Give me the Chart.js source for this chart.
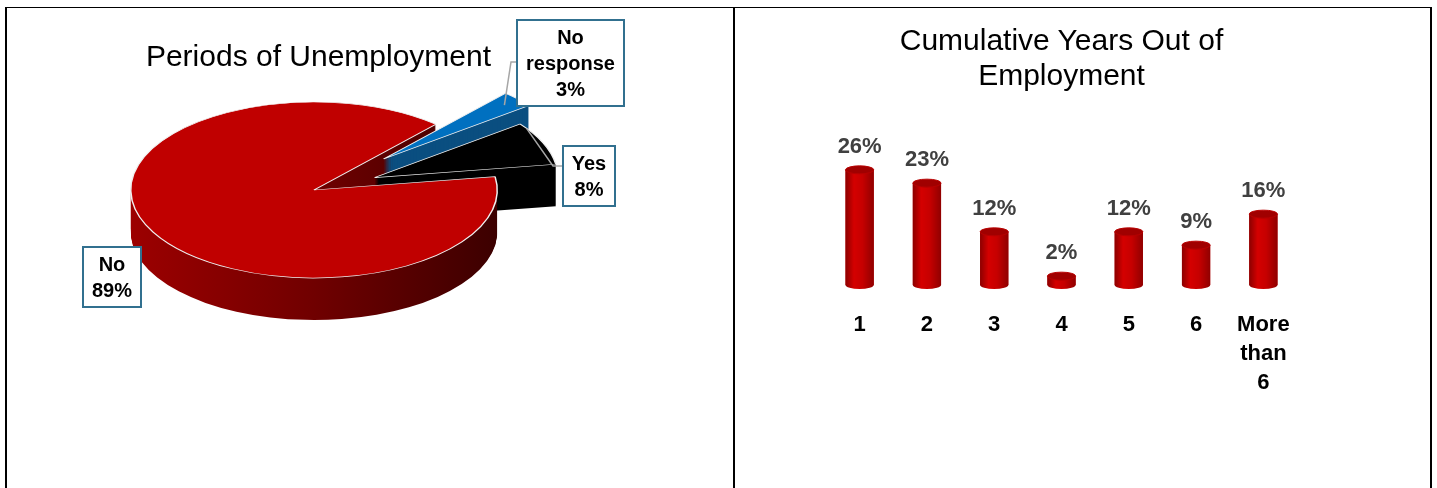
<!DOCTYPE html>
<html>
<head>
<meta charset="utf-8">
<script src="https://cdn.jsdelivr.net/npm/chart.js@4/dist/chart.umd.min.js"></script>
<style>
  html, body { margin: 0; padding: 0; background: #fff; }
  body { width: 1437px; height: 488px; position: relative; overflow: hidden; font-family: "Liberation Sans", Arial, sans-serif; }
  .rule { position: absolute; background: #000; }
  .title { position: absolute; font-size: 30px; line-height: 35px; color: #000; text-align: center; white-space: nowrap; }
  canvas { position: absolute; }
</style>
</head>
<body>
<canvas id="pieChart" width="735" height="488" style="left:0;top:0"></canvas>
<canvas id="barChart" width="693" height="480" style="left:737px;top:8px"></canvas>

<div class="title" style="left:0;top:38px;width:637px">Periods of Unemployment</div>
<div class="title" style="left:737px;top:22px;width:649px">Cumulative Years Out of<br>Employment</div>

<div class="rule" style="left:5px;top:7px;width:1427px;height:1px"></div>
<div class="rule" style="left:5px;top:7px;width:2px;height:481px"></div>
<div class="rule" style="left:733px;top:7px;width:2px;height:481px"></div>
<div class="rule" style="left:1430px;top:7px;width:2px;height:481px"></div>

<script>
const FONT = '"Liberation Sans", Arial, sans-serif';

// Periods of unemployment (%)
const pieLabels = ['Yes', 'No', 'No response'];
const pieValues = [8, 89, 3];
const pieColors = ['#000000', '#c00000', '#0070c0'];

// Cumulative years out of employment (%)
const barCategories = ['1', '2', '3', '4', '5', '6', ['More', 'than', '6']];
const barValues = [26, 23, 12, 2, 12, 9, 16];

// 3D look of the pie
const PIE_CY = 190;     // screen y of the pie centre
const TILT = 0.48;      // vertical squash of the disc
const DEPTH = 42;       // thickness of the disc
const explode = [66, 0, 95];

// callout boxes around the pie
const pieBoxes = [
  { x: 563, y: 146, w: 52, h: 60, leader: [[563, 166], [553, 166]], at: [0.12, 1] },
  { x: 83, y: 247, w: 58, h: 60 },
  { x: 517, y: 20, w: 107, h: 86, leader: [[517, 62], [511, 62]], at: [0.5, 0.9] }
];

function sideFill(ctx, i, arc) {
  if (i === 0) return '#000000';
  if (i === 2) return '#0b4f80';
  const g = ctx.createLinearGradient(arc.x - arc.outerRadius, 0, arc.x + arc.outerRadius, 0);
  g.addColorStop(0, '#9c0000');
  g.addColorStop(0.5, '#700000');
  g.addColorStop(1, '#3c0000');
  return g;
}

function squash(ctx, chart, dy) {
  const cy = (chart.chartArea.top + chart.chartArea.bottom) / 2;
  ctx.translate(0, PIE_CY + dy);
  ctx.scale(1, TILT);
  ctx.translate(0, -cy);
}

function toScreen(chart, arc, frac, rf) {
  const cy = (chart.chartArea.top + chart.chartArea.bottom) / 2;
  const a = arc.startAngle + frac * (arc.endAngle - arc.startAngle);
  const ux = arc.x + Math.cos(a) * arc.outerRadius * rf;
  const uy = arc.y + Math.sin(a) * arc.outerRadius * rf;
  return [ux, PIE_CY + (uy - cy) * TILT];
}

const pie3d = {
  id: 'pie3d',
  afterDatasetsUpdate(chart) {
    chart.getDatasetMeta(0).data.forEach((arc, i) => {
      const d = explode[i];
      if (!d) return;
      const mid = (arc.startAngle + arc.endAngle) / 2;
      arc.x += Math.cos(mid) * d;
      arc.y += Math.sin(mid) * d;
    });
  },
  beforeDatasetsDraw(chart) {
    const ctx = chart.ctx;
    const arcs = chart.getDatasetMeta(0).data;
    // extrude each slice downwards
    for (let d = DEPTH; d > 0; d--) {
      arcs.forEach((arc, i) => {
        ctx.save();
        squash(ctx, chart, d);
        ctx.beginPath();
        ctx.moveTo(arc.x, arc.y);
        ctx.arc(arc.x, arc.y, arc.outerRadius, arc.startAngle, arc.endAngle);
        ctx.closePath();
        ctx.fillStyle = sideFill(ctx, i, arc);
        ctx.fill();
        ctx.restore();
      });
    }
    ctx.save();
    squash(ctx, chart, 0);
  },
  afterDatasetsDraw(chart) {
    chart.ctx.restore();
  },
  afterDraw(chart) {
    const ctx = chart.ctx;
    const arcs = chart.getDatasetMeta(0).data;
    pieBoxes.forEach((b, i) => {
      if (b.leader) {
        const p = toScreen(chart, arcs[i], b.at[0], b.at[1]);
        ctx.strokeStyle = '#a6a6a6';
        ctx.lineWidth = 1.5;
        ctx.beginPath();
        ctx.moveTo(b.leader[0][0], b.leader[0][1]);
        ctx.lineTo(b.leader[1][0], b.leader[1][1]);
        ctx.lineTo(p[0], p[1]);
        ctx.stroke();
      }
      ctx.fillStyle = '#ffffff';
      ctx.fillRect(b.x, b.y, b.w, b.h);
      ctx.strokeStyle = '#31708f';
      ctx.lineWidth = 2;
      ctx.strokeRect(b.x, b.y, b.w, b.h);
      const lines = pieLabels[i].split(' ').concat(pieValues[i] + '%');
      ctx.fillStyle = '#000';
      ctx.font = 'bold 20px ' + FONT;
      ctx.textAlign = 'center';
      ctx.textBaseline = 'alphabetic';
      const lh = 26;
      const top = b.y + b.h / 2 - (lines.length * lh) / 2;
      lines.forEach((t, k) => ctx.fillText(t, b.x + b.w / 2, top + k * lh + lh / 2 + 7));
    });
  }
};

new Chart(document.getElementById('pieChart'), {
  type: 'pie',
  data: {
    labels: pieLabels,
    datasets: [{
      data: pieValues,
      backgroundColor: pieColors,
      borderColor: '#f0f0f0',
      borderWidth: 1.5,
      clip: false
    }]
  },
  options: {
    responsive: false,
    animation: false,
    events: [],
    rotation: 52.5,
    layout: { padding: { left: 130, right: 237, top: 10, bottom: 110 } },
    plugins: { legend: { display: false }, tooltip: { enabled: false } }
  },
  plugins: [pie3d]
});

// cylinders and value labels on top of the bars
const cylinders = {
  id: 'cylinders',
  afterDatasetsDraw(chart) {
    const ctx = chart.ctx;
    const bars = chart.getDatasetMeta(0).data;
    bars.forEach((bar, i) => {
      const { x, y, base, width } = bar.getProps(['x', 'y', 'base', 'width']);
      const l = x - width / 2, rx = width / 2, ry = 4;
      const g = ctx.createLinearGradient(l, 0, l + width, 0);
      g.addColorStop(0, '#8c0000');
      g.addColorStop(0.3, '#d40000');
      g.addColorStop(0.6, '#c60000');
      g.addColorStop(1, '#900000');
      ctx.save();
      ctx.fillStyle = g;
      ctx.beginPath();
      ctx.moveTo(l, y);
      ctx.lineTo(l, base);
      ctx.ellipse(x, base, rx, ry, 0, Math.PI, 0, true);
      ctx.lineTo(l + width, y);
      ctx.closePath();
      ctx.fill();
      ctx.beginPath();
      ctx.ellipse(x, y, rx, ry, 0, 0, Math.PI * 2);
      ctx.fillStyle = '#a00000';
      ctx.fill();
      ctx.strokeStyle = '#b80000';
      ctx.lineWidth = 1;
      ctx.stroke();

      ctx.fillStyle = '#404040';
      ctx.font = 'bold 22px ' + FONT;
      ctx.textAlign = 'center';
      ctx.textBaseline = 'middle';
      ctx.fillText(barValues[i] + '%', x, y - 23);
      ctx.restore();
    });
  }
};

new Chart(document.getElementById('barChart'), {
  type: 'bar',
  data: {
    labels: barCategories,
    datasets: [{
      data: barValues,
      backgroundColor: '#c00000',
      categoryPercentage: 1,
      barPercentage: 0.42
    }]
  },
  options: {
    responsive: false,
    animation: false,
    events: [],
    layout: { padding: { left: 89, right: 133, top: 122, bottom: 66 } },
    scales: {
      x: {
        grid: { display: false, drawTicks: false },
        border: { display: false },
        ticks: {
          color: '#000',
          padding: 25,
          autoSkip: false,
          maxRotation: 0,
          font: { family: FONT, size: 22, weight: 'bold', lineHeight: 29 / 22 }
        }
      },
      y: { display: false, min: 0, max: 35 }
    },
    plugins: { legend: { display: false }, tooltip: { enabled: false } }
  },
  plugins: [cylinders]
});
</script>
</body>
</html>
